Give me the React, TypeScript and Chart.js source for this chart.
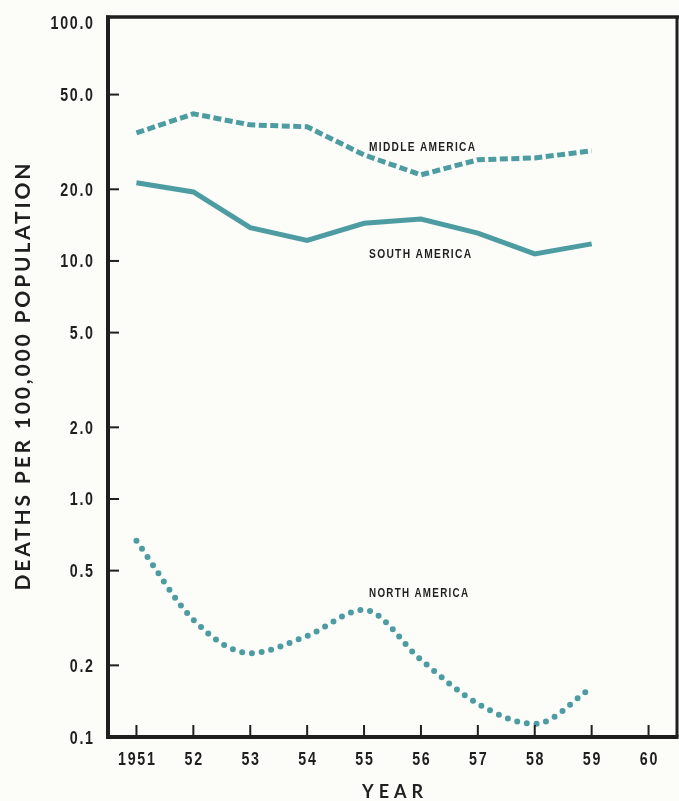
import React, { useEffect, useRef } from 'react';
import { Chart, registerables } from 'chart.js';

Chart.register(...registerables);

// ---- data ----
const years = [1951, 1952, 1953, 1954, 1955, 1956, 1957, 1958, 1959];
const middleAmerica = [34.5, 41.5, 37.3, 36.6, 27.9, 23.0, 26.6, 27.1, 29.0];
const southAmerica = [21.3, 19.5, 13.8, 12.2, 14.4, 15.0, 13.1, 10.7, 11.8];
const northAmerica = [0.667, 0.311, 0.225, 0.266, 0.342, 0.211, 0.138, 0.1135, 0.161];

const yTicks = [0.1, 0.2, 0.5, 1, 2, 5, 10, 20, 50, 100];
const yTickLabels = ['0.1', '0.2', '0.5', '1.0', '2.0', '5.0', '10.0', '20.0', '50.0', '100.0'];
const xTicks = [1951, 1952, 1953, 1954, 1955, 1956, 1957, 1958, 1959, 1960];
const xTickLabels = ['1951', '52', '53', '54', '55', '56', '57', '58', '59', '60'];

const seriesNames = ['MIDDLE AMERICA', 'SOUTH AMERICA', 'NORTH AMERICA'];
const yTitle = 'DEATHS PER 100,000 POPULATION';
const xTitle = 'YEAR';

const TEAL = '#4d9ca2';
const INK = '#1f1f1f';
const BG = '#fcfcf9';
const SANS = '"Liberation Sans", Arial, sans-serif';
const TITLE_FONT = 'Lato, "Open Sans", sans-serif';

const pts = (vals: number[]) => years.map((x, i) => ({ x, y: vals[i] }));

type TextOpts = {
  font: string;
  align: 'left' | 'right' | 'center';
  scaleX?: number;
  spacing?: number;
  targetWidth?: number;
};

function drawText(ctx: any, text: string, x: number, yCenter: number, o: TextOpts) {
  ctx.save();
  ctx.font = o.font;
  ctx.letterSpacing = '0px';
  const m = ctx.measureText(text);
  const raw = m.width;
  const asc = m.actualBoundingBoxAscent;
  const n = text.length;
  let sx = o.scaleX ?? 1;
  let sp = o.spacing ?? 0;
  if (o.targetWidth) {
    if (o.scaleX !== undefined) sp = (o.targetWidth - raw * sx) / (n - 1);
    else sx = (o.targetWidth - sp * (n - 1)) / raw;
  }
  const total = raw * sx + sp * (n - 1);
  const startX = o.align === 'left' ? x : o.align === 'right' ? x - total : x - total / 2;
  ctx.translate(startX, yCenter + asc / 2);
  ctx.scale(sx, 1);
  ctx.letterSpacing = `${sp / sx}px`;
  ctx.textAlign = 'left';
  ctx.textBaseline = 'alphabetic';
  ctx.fillStyle = INK;
  ctx.fillText(text, 0, 0);
  ctx.restore();
}

const framePlugin = {
  id: 'frameAndText',
  beforeDraw(chart: any) {
    const ctx = chart.ctx;
    ctx.save();
    ctx.fillStyle = BG;
    ctx.fillRect(0, 0, chart.width, chart.height);
    ctx.restore();
  },
  afterDraw(chart: any) {
    const ctx = chart.ctx as any;
    const { left, right, top, bottom } = chart.chartArea;
    const xs = chart.scales.x;
    const ys = chart.scales.y;
    ctx.save();
    ctx.strokeStyle = INK;
    ctx.lineCap = 'butt';
    const line = (x1: number, y1: number, x2: number, y2: number) => {
      ctx.beginPath();
      ctx.moveTo(x1, y1);
      ctx.lineTo(x2, y2);
      ctx.stroke();
    };
    // frame
    ctx.lineWidth = 4;
    line(left, top - 1.5, left, bottom + 2);
    line(left - 2, bottom, right + 1.5, bottom);
    ctx.lineWidth = 3.5;
    line(left - 2, top, chart.width, top);
    ctx.lineWidth = 3;
    line(right, top, right, bottom);
    // inward tick marks
    ctx.lineWidth = 2;
    yTicks.forEach((v) => {
      if (v <= yTicks[0] || v >= yTicks[yTicks.length - 1]) return;
      const y = ys.getPixelForValue(v);
      line(left, y, left + 11, y);
    });
    xTicks.forEach((v) => {
      const x = xs.getPixelForValue(v);
      line(x, bottom, x, bottom - 12);
    });
    ctx.restore();

    // tick labels
    const tickFont = `bold 19px ${SANS}`;
    yTicks.forEach((v, i) => {
      const y = Math.max(ys.getPixelForValue(v), top + 4);
      drawText(ctx, yTickLabels[i], left - 15, Math.min(y, bottom), {
        font: tickFont, align: 'right', scaleX: 0.75, spacing: 1.7,
      });
    });
    xTicks.forEach((v, i) => {
      drawText(ctx, xTickLabels[i], xs.getPixelForValue(v), bottom + 21.5, {
        font: tickFont, align: 'center', scaleX: 0.75, spacing: 1.7,
      });
    });

    // series labels
    const lx = xs.getPixelForValue(1955) + 5;
    const lblFont = `bold 13px ${SANS}`;
    drawText(ctx, seriesNames[0], lx, ys.getPixelForValue(30.3), { font: lblFont, align: 'left', spacing: 1.3, targetWidth: 106 });
    drawText(ctx, seriesNames[1], lx, ys.getPixelForValue(10.7), { font: lblFont, align: 'left', spacing: 1.3, targetWidth: 102 });
    drawText(ctx, seriesNames[2], lx, ys.getPixelForValue(0.405), { font: lblFont, align: 'left', spacing: 1.3, targetWidth: 99 });

    // axis titles
    ctx.save();
    ctx.translate(22, (top + bottom) / 2);
    ctx.rotate(-Math.PI / 2);
    drawText(ctx, yTitle, 0, 0, { font: `bold 21px ${TITLE_FONT}`, align: 'center', scaleX: 1, targetWidth: 427 });
    ctx.restore();
    drawText(ctx, xTitle, (left + right) / 2, 791, { font: `bold 18px ${TITLE_FONT}`, align: 'center', scaleX: 1, targetWidth: 61 });
  },
};

export default function App() {
  const ref = useRef<HTMLCanvasElement>(null);
  useEffect(() => {
    const canvas = ref.current!;
    const chart = new Chart(canvas, {
      type: 'line',
      data: {
        datasets: [
          {
            label: seriesNames[0],
            data: pts(middleAmerica),
            borderColor: TEAL,
            borderWidth: 5,
            borderDash: [8, 3.5],
            pointRadius: 0,
            tension: 0,
          },
          {
            label: seriesNames[1],
            data: pts(southAmerica),
            borderColor: TEAL,
            borderWidth: 5,
            pointRadius: 0,
            tension: 0,
          },
          {
            label: seriesNames[2],
            data: pts(northAmerica),
            borderColor: TEAL,
            borderWidth: 6,
            borderDash: [0, 9.8],
            borderCapStyle: 'round',
            pointRadius: 0,
            cubicInterpolationMode: 'monotone',
          },
        ],
      },
      options: {
        animation: false,
        responsive: false,
        devicePixelRatio: 1,
        layout: { padding: { top: 17, right: 2, left: 0, bottom: 0 } },
        plugins: { legend: { display: false }, tooltip: { enabled: false } },
        scales: {
          x: {
            type: 'linear',
            min: 1950.5,
            max: 1960.5,
            afterBuildTicks: (s: any) => {
              s.ticks = xTicks.map((v) => ({ value: v }));
            },
            afterFit: (s: any) => {
              s.height = 64;
            },
            grid: { display: false, drawTicks: false },
            border: { display: false },
            ticks: { display: false },
          },
          y: {
            type: 'logarithmic',
            min: 0.1,
            max: 105.9,
            afterBuildTicks: (s: any) => {
              s.ticks = yTicks.map((v) => ({ value: v }));
            },
            afterFit: (s: any) => {
              s.width = 108;
            },
            grid: { display: false, drawTicks: false },
            border: { display: false },
            ticks: { display: false },
          },
        },
      },
      plugins: [framePlugin],
    } as any);
    return () => chart.destroy();
  }, []);
  return (
    <div style={{ position: 'fixed', left: 0, top: 0, width: 679, height: 801, background: BG }}>
      <canvas ref={ref} width={679} height={801} style={{ display: 'block' }} />
    </div>
  );
}
